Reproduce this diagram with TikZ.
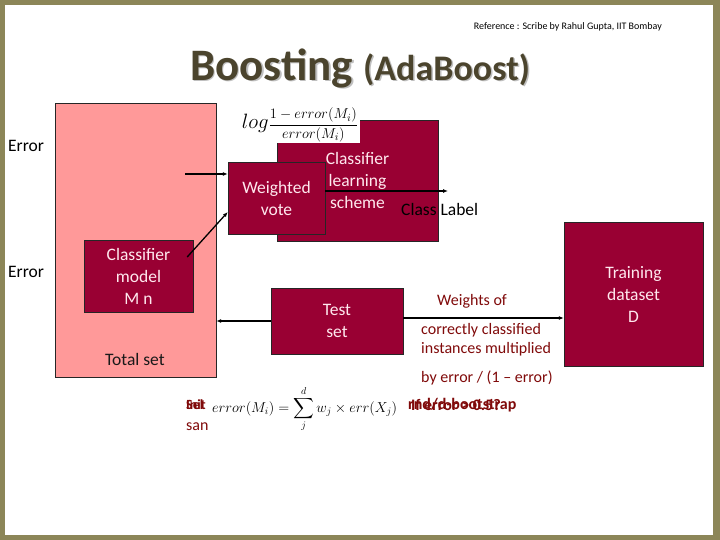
\documentclass[tikz,border=0pt]{standalone}
\usepackage{amsmath}
\usepackage[no-math]{fontspec}
\setmainfont{Carlito}
\usetikzlibrary{positioning, arrows.meta}

\definecolor{frameolive}{RGB}{140,134,88}
\definecolor{boxred}{RGB}{153,0,51}
\definecolor{boxtext}{RGB}{255,232,238}
\definecolor{pinkset}{RGB}{255,153,153}
\definecolor{notered}{RGB}{128,10,10}
\definecolor{titlecol}{RGB}{75,68,45}

\begin{document}
\begin{tikzpicture}[x=1pt, y=-1pt,
    box/.style={rectangle, draw=black!85, fill=boxred, text=boxtext, align=center,
                font=\fontsize{17.5}{22}\selectfont, inner sep=0pt},
    note/.style={text=notered, font=\fontsize{16}{19}\selectfont, anchor=west, inner sep=0pt},
    plain/.style={font=\fontsize{17.5}{20}\selectfont, inner sep=0pt},
    flow/.style={-{Latex[length=5pt,width=4pt]}, line width=1.3pt}]
\useasboundingbox (0,0) rectangle (720,540);
\fill[frameolive] (0,0) rectangle (720,540);
\fill[white] (5,5) rectangle (713,535);

% heading
\node[anchor=east, font=\fontsize{10}{11}\selectfont, inner sep=0pt] (ref) at (662,27)
    {Reference : Scribe by Rahul Gupta, IIT Bombay};
\node[text=black!25, font=\bfseries] at (361.5,69.5)
    {\fontsize{45}{47}\selectfont Boosting \fontsize{36}{38}\selectfont(AdaBoost)};
\node[text=titlecol, font=\bfseries] (title) at (360,68)
    {\fontsize{45}{47}\selectfont Boosting \fontsize{36}{38}\selectfont(AdaBoost)};

\node[plain, anchor=west] (err1) at (8,146) {Error};
\node[plain, anchor=west] (err2) at (8,272) {Error};

% boxes
\node[rectangle, draw=black!85, fill=pinkset, minimum width=161, minimum height=274] (total) at (135.5,240) {};
\node[plain, text=black!90] (totallbl) at (135,359) {Total set};
\node[box, minimum width=109, minimum height=72] (model) at (138.5,276) {Classifier\\model\\M n};
\node[box, minimum width=161, minimum height=121] (scheme) at (357.5,180.5) {Classifier\\learning\\scheme};
\node[fill=white, inner sep=1pt, minimum width=120, minimum height=34] (logw) at (300,125)
    {\fontsize{22}{24}\selectfont$log$\fontsize{15}{17}\selectfont$\dfrac{1-error(M_i)}{error(M_i)}$};
\node[box, minimum width=97, minimum height=72] (vote) at (276.5,198) {Weighted\\vote};
\node[box, minimum width=132, minimum height=66] (test) at (337,321) {Test\\set};
\node[box, minimum width=139, minimum height=144] (train) at (633.5,294) {Training\\dataset\\D};

% arrows
\coordinate (votein) at (185,174);
\coordinate (labelend) at (448,191);
\draw[flow] (votein) -- (votein -| vote.west);
\draw[flow] ([shift={(-6,-19)}]model.east) -- ([yshift=-14pt]vote.west);
\draw[flow] ([yshift=7pt]vote.east) -- (labelend);
\node[plain, anchor=west] (label) at (401,209) {Class Label};
\draw[flow] (test.west) -- (test.west -| total.east);
\draw[flow] ([yshift=3pt]test.east) -- ([yshift=3pt]test.east -| train.west);

% weight update notes
\node[note] (wof) at (437,301) {Weights of};
\node[note] (corr) at (421,330) {correctly classified};
\node[note, below=5pt of corr.south west, anchor=north west] (inst) {instances multiplied};
\node[note] (byerr) at (421,378) {by error / (1 -- error)};

% error formula
\node[anchor=base west, inner sep=0pt, font=\fontsize{14.6}{17}\selectfont] (errsum) at (212,412)
    {$\displaystyle error(M_i)=\sum_{j}^{d} w_j\times err(X_j)$};
\node[note, font=\fontsize{14}{16}\selectfont\bfseries] (sel) at (186,405) {Sel};
\node[note, font=\fontsize{14}{16}\selectfont\bfseries] (init) at (186,405) {Init};
\node[note, font=\fontsize{16}{18}\selectfont] (san) at (186,427) {san};
\node[note, font=\fontsize{16}{18}\selectfont\bfseries] (boot) at (408,405) {rnd/d-bootstrap};
\node[note, font=\fontsize{16}{18}\selectfont\bfseries] (half) at (411,405) {If error > 0.5?};
\end{tikzpicture}
\end{document}
